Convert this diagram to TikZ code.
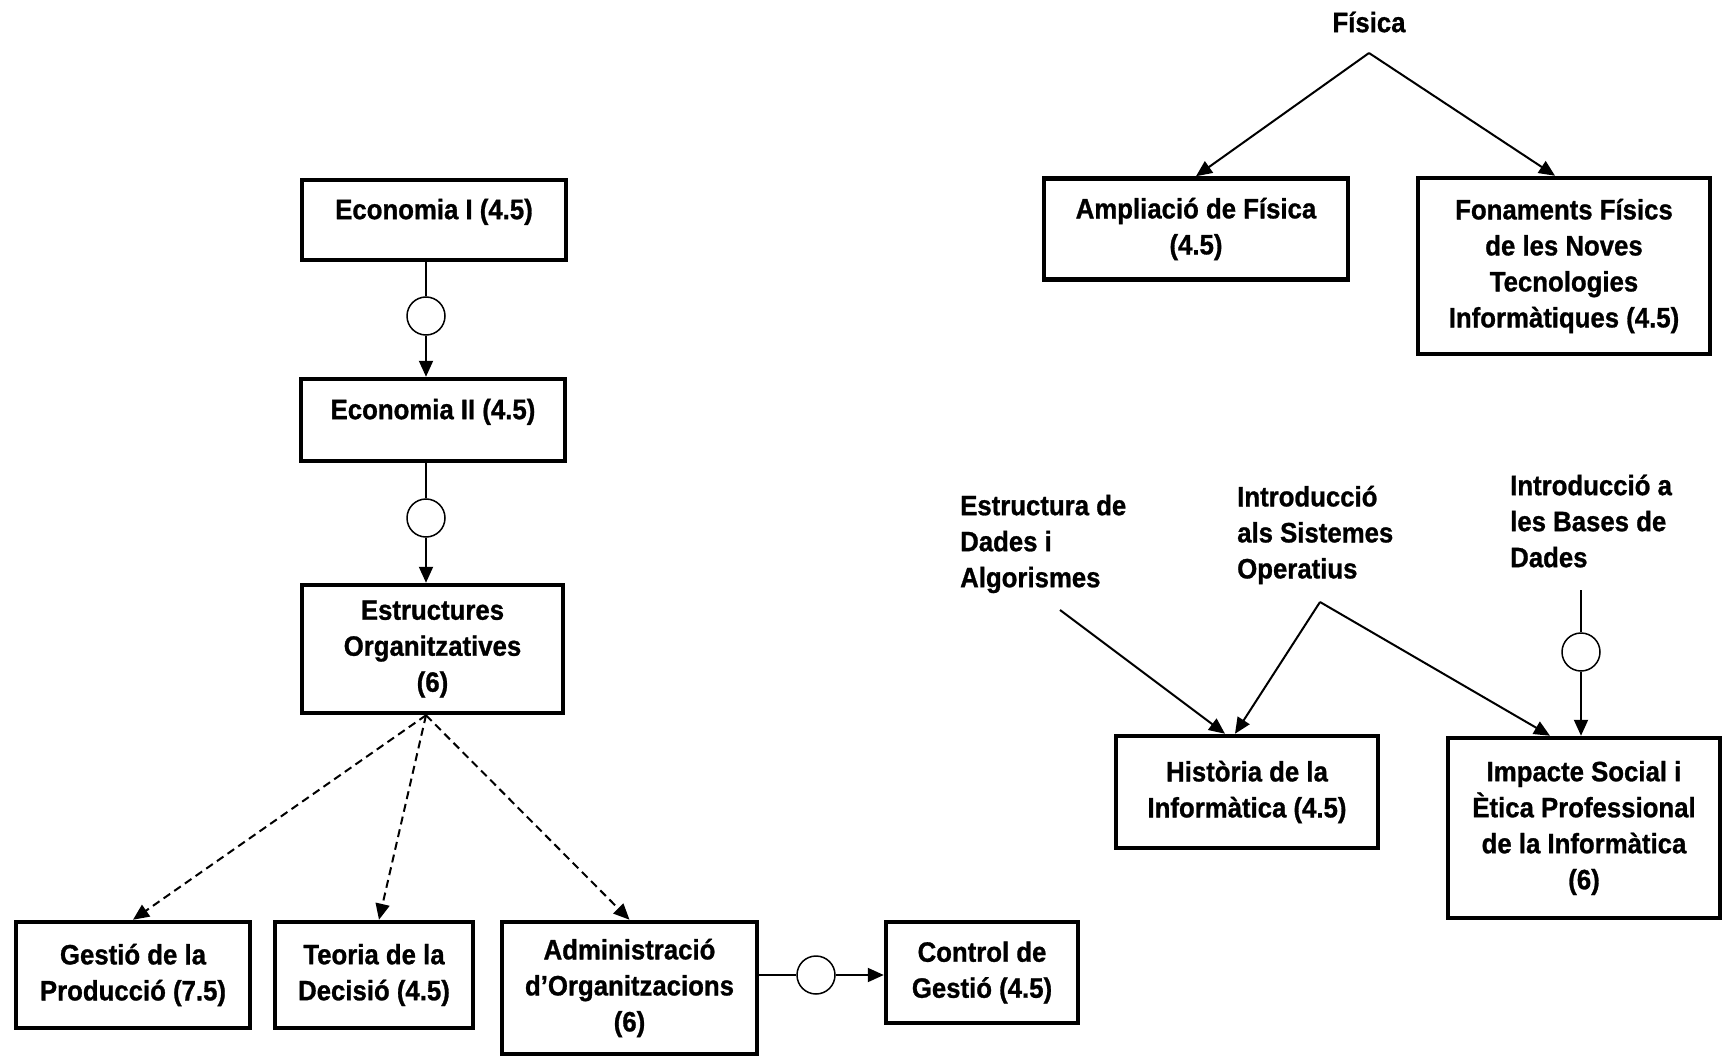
\documentclass[tikz,border=0pt]{standalone}
\usepackage{fontspec}
\setmainfont{Liberation Sans}[FakeStretch=0.92,FakeBold=1]
\usetikzlibrary{arrows.meta}
\tikzset{
  course/.style={draw,line width=4.5pt,align=center,inner sep=0pt},
  subject/.style={align=left,inner sep=0pt},
  junction/.style={draw,circle,line width=1.5pt,minimum size=38pt,inner sep=0pt},
  plain/.style={line width=2pt},
  link/.style={line width=2pt,-{Triangle[length=16pt,width=14pt]}},
  optional/.style={link,dash pattern=on 8pt off 5pt},
}
\begin{document}
\begin{tikzpicture}[x=1pt,y=-1pt,font=\bfseries\fontsize{28}{36}\selectfont]
        \useasboundingbox (0,0) rectangle (1724,1059);
        %% economia chain
        \node[course,minimum width=264,minimum height=80,text depth=22pt] (eco1) at (434,220) {Economia I (4.5)};
        \node[junction] (j1) at (426,316) {};
        \node[course,minimum width=264,minimum height=82,text depth=22pt] (eco2) at (433,420) {Economia II (4.5)};
        \node[junction] (j2) at (426,518) {};
        \node[course,minimum width=261,minimum height=128] (estr) at (432.5,649) {Estructures\\Organitzatives\\(6)};
        \draw[plain] (j1 |- eco1.south) -- (j1);
        \draw[link] (j1) -- (j1 |- eco2.north);
        \draw[plain] (j2 |- eco2.south) -- (j2);
        \draw[link] (j2) -- (j2 |- estr.north);
        %% bottom row
        \node[course,minimum width=234,minimum height=106] (gest) at (133,975) {Gestió de la\\Producció (7.5)};
        \node[course,minimum width=198,minimum height=106] (teor) at (374,975) {Teoria de la\\Decisió (4.5)};
        \node[course,minimum width=255,minimum height=132] (admin) at (629.5,988) {Administració\\d’Organitzacions\\(6)};
        \node[junction] (j3) at (816,975) {};
        \node[course,minimum width=192,minimum height=101] (ctrl) at (982,972.5) {Control de\\Gestió (4.5)};
        \draw[optional] (j2 |- estr.south) -- (gest.north);
        \draw[optional] (j2 |- estr.south) -- ([xshift=5pt]teor.north);
        \draw[optional] (j2 |- estr.south) -- (admin.north);
        \draw[plain] (admin.east |- j3) -- (j3);
        \draw[link] (j3) -- (j3 -| ctrl.west);
        %% fisica
        \node (fis) at (1369,22) {Física};
        \coordinate (apex) at (1369,53);
        \node[course,minimum width=304,minimum height=101] (ampl) at (1196,229) {Ampliació de Física\\(4.5)};
        \node[course,minimum width=292,minimum height=176] (fon) at (1564,266) {Fonaments Físics\\de les Noves\\Tecnologies\\Informàtiques (4.5)};
        \draw[link] (apex) -- (ampl.north);
        \draw[link] (apex) -- ([xshift=-9pt]fon.north);
        %% informatica
        \node[subject,anchor=west] (eda) at (960,544) {Estructura de\\Dades i\\Algorismes};
        \node[subject,anchor=west] (iso) at (1237,535) {Introducció\\als Sistemes\\Operatius};
        \node[subject,anchor=west] (ibd) at (1510,521) {Introducció a\\les Bases de\\Dades};
        \node[course,minimum width=262,minimum height=112] (hist) at (1247,792) {Història de la\\Informàtica (4.5)};
        \node[course,minimum width=272,minimum height=180] (imp) at (1584,828) {Impacte Social i\\Ètica Professional\\de la Informàtica\\(6)};
        \coordinate (edaend) at (1060,610);
        \coordinate (isoend) at (1320,602);
        \coordinate (ibdend) at (1581,590);
        \node[junction] (j4) at (1581,652) {};
        \draw[link] (edaend) -- ([xshift=-22pt]hist.north);
        \draw[link] (isoend) -- ([xshift=-12pt]hist.north);
        \draw[link] (isoend) -- ([xshift=-34pt]imp.north);
        \draw[plain] (ibdend) -- (j4);
        \draw[link] (j4) -- (j4 |- imp.north);
\end{tikzpicture}
\end{document}
